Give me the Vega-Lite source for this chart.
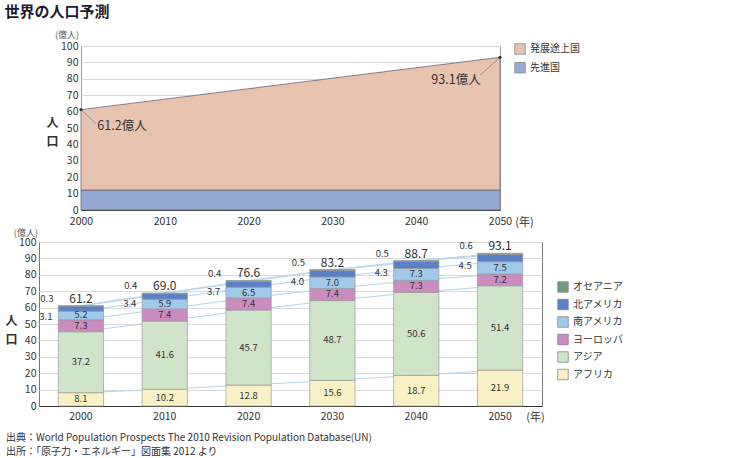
{
  "$schema": "https://vega.github.io/schema/vega-lite/v6.json",
  "background": "white",
  "padding": {"left": 4, "top": 4, "right": 5, "bottom": 0},
  "config": {
    "font": "Noto Sans CJK JP",
    "axis": {"labelFont": "Noto Sans CJK JP", "labelFontSize": 10.5, "labelColor": "#333", "labelOverlap": false, "titleFont": "Noto Sans CJK JP", "titleColor": "#333", "ticks": false, "gridColor": "#dadada", "domainColor": "#444"},
    "legend": {"labelFont": "Noto Sans CJK JP", "labelFontSize": 10, "labelColor": "#333", "symbolType": "square", "symbolSize": 110, "symbolStrokeColor": "#888", "symbolStrokeWidth": 0.8},
    "text": {"font": "Noto Sans CJK JP"}
  },
  "title": {"text": "世界の人口予測", "anchor": "start", "frame": "bounds", "fontSize": 15, "fontWeight": "bold", "color": "#1a1a33", "offset": 11, "font": "Noto Sans CJK JP"},
  "columns": 1,
  "spacing": 0,
  "resolve": {"scale": {"color": "independent", "x": "independent", "y": "independent"}},
  "concat": [
    {
      "spacing": 0,
      "hconcat": [
        {
          "width": 6,
          "height": 10,
          "view": {"fill": "white", "stroke": null},
          "data": {"values": [{"s": 0}]},
          "mark": {"type": "point", "opacity": 0, "size": 0}
        },
        {
          "width": 419,
          "height": 164,
          "view": {"stroke": "#a0a0a0"},
          "layer": [
            {
              "data": {"values": [
                {"year": 2000, "region": "先進国", "pop": 12.2},
                {"year": 2050, "region": "先進国", "pop": 12.2},
                {"year": 2000, "region": "発展途上国", "pop": 49.0},
                {"year": 2050, "region": "発展途上国", "pop": 80.9}
              ]},
              "mark": {"type": "area", "stroke": "#6d6478", "strokeWidth": 0.8, "opacity": 1},
              "encoding": {
                "x": {"field": "year", "type": "quantitative", "scale": {"domain": [2000, 2050], "nice": false, "zero": false},
                  "axis": {"values": [2000, 2010, 2020, 2030, 2040, 2050], "tickCount": 6, "format": "d", "grid": false, "domain": true, "domainColor": "#333", "labelPadding": 6, "labelFlush": false, "labelOverlap": false, "title": "(年)", "titleX": 443, "titleY": 12, "titleAlign": "center", "titleBaseline": "middle", "titleFontWeight": "normal", "titleFontSize": 11}},
                "y": {"field": "pop", "type": "quantitative", "stack": "zero", "scale": {"domain": [0, 100], "nice": false},
                  "axis": {"values": [0, 10, 20, 30, 40, 50, 60, 70, 80, 90, 100], "tickCount": 11, "grid": true, "domain": false, "labelPadding": 3, "labelOverlap": false, "title": ["人", "口"], "titleAngle": 0, "titleX": -29, "titleY": 76, "titleAlign": "center", "titleBaseline": "middle", "titleLineHeight": 19, "titleFontSize": 12, "titleFontWeight": "bold"}},
                "color": {"field": "region", "type": "nominal", "scale": {"domain": ["発展途上国", "先進国"], "range": ["#E8C4B0", "#95AAD3"]},
                  "legend": {"orient": "none", "legendX": 475, "legendY": -3, "title": null, "rowPadding": 4.7}},
                "order": {"field": "region", "sort": "ascending"}
              }
            },
            {
              "data": {"values": [
                {"year": 2000, "pop": 61.2, "label": "61.2億人"},
                {"year": 2050, "pop": 93.1, "label": "93.1億人"}
              ]},
              "layer": [
                {
                  "transform": [{"filter": "datum.year == 2000"}],
                  "mark": {"type": "rule", "color": "#8a7a80", "strokeWidth": 0.8, "x2Offset": 15, "y2Offset": 14},
                  "encoding": {"x": {"field": "year", "type": "quantitative"}, "y": {"field": "pop", "type": "quantitative"}, "x2": {"field": "year"}, "y2": {"field": "pop"}}
                },
                {
                  "transform": [{"filter": "datum.year == 2050"}],
                  "mark": {"type": "rule", "color": "#8a7a80", "strokeWidth": 0.8, "x2Offset": -20, "y2Offset": 18},
                  "encoding": {"x": {"field": "year", "type": "quantitative"}, "y": {"field": "pop", "type": "quantitative"}, "x2": {"field": "year"}, "y2": {"field": "pop"}}
                },
                {
                  "mark": {"type": "point", "filled": true, "size": 10, "color": "#333", "opacity": 1},
                  "encoding": {"x": {"field": "year", "type": "quantitative"}, "y": {"field": "pop", "type": "quantitative"}}
                },
                {
                  "transform": [{"filter": "datum.year == 2000"}],
                  "mark": {"type": "text", "dx": 41, "dy": 16, "fontSize": 12.5, "color": "#333"},
                  "encoding": {"x": {"field": "year", "type": "quantitative"}, "y": {"field": "pop", "type": "quantitative"}, "text": {"field": "label"}}
                },
                {
                  "transform": [{"filter": "datum.year == 2050"}],
                  "mark": {"type": "text", "dx": -44, "dy": 23, "fontSize": 12.5, "color": "#333"},
                  "encoding": {"x": {"field": "year", "type": "quantitative"}, "y": {"field": "pop", "type": "quantitative"}, "text": {"field": "label"}}
                }
              ]
            },
            {
              "data": {"values": [{"unit": "(億人)"}]},
              "mark": {"type": "text", "fontSize": 9, "color": "#555", "dx": -14, "dy": -11},
              "encoding": {"x": {"datum": 2000, "type": "quantitative"}, "y": {"datum": 100, "type": "quantitative"}, "text": {"field": "unit"}}
            }
          ]
        }
      ]
    },
    {
      "width": 503,
      "height": 164,
      "view": {"stroke": "#777"},
      "title": {
        "text": ["出典：World Population Prospects The 2010 Revision Population Database(UN)", "出所：「原子力・エネルギー」図面集 2012 より"],
        "orient": "bottom", "anchor": "start", "frame": "group", "dx": -33, "fontSize": 10, "fontWeight": "normal", "color": "#333", "lineHeight": 14, "offset": 11, "font": "Noto Sans CJK JP"
      },
      "layer": [
        {
          "data": {"name": "pop"},
          "transform": [
            {"calculate": "indexof(['アフリカ','アジア','ヨーロッパ','南アメリカ','北アメリカ','オセアニア'], datum.region)", "as": "k"},
            {"stack": "pop", "groupby": ["year"], "sort": [{"field": "k", "order": "ascending"}], "as": ["y0", "y1"]},
            {"calculate": "(datum.y0 + datum.y1) / 2", "as": "ym"}
          ],
          "layer": [
            {
              "mark": {"type": "line", "color": "#b3d5ee", "strokeWidth": 1},
              "encoding": {
                "x": {"field": "year", "type": "ordinal", "scale": {"paddingInner": 0.46, "paddingOuter": 0.23},
                  "axis": {"labelAngle": 0, "labelPadding": 5, "domainColor": "#333", "title": "(年)", "titleX": 496, "titleY": 11, "titleAlign": "center", "titleBaseline": "middle", "titleFontWeight": "normal", "titleFontSize": 11}},
                "y": {"field": "y1", "type": "quantitative", "scale": {"domain": [0, 100], "nice": false},
                  "axis": {"values": [0, 10, 20, 30, 40, 50, 60, 70, 80, 90, 100], "tickCount": 11, "grid": true, "domain": false, "labelPadding": 3, "labelOverlap": false, "title": ["人", "口"], "titleAngle": 0, "titleX": -28, "titleY": 78, "titleAlign": "center", "titleBaseline": "middle", "titleLineHeight": 19, "titleFontSize": 12, "titleFontWeight": "bold"}},
                "detail": {"field": "region"}
              }
            },
            {
              "mark": {"type": "bar", "stroke": "#999", "strokeWidth": 0.7},
              "encoding": {
                "x": {"field": "year", "type": "ordinal"},
                "y": {"field": "y0", "type": "quantitative"},
                "y2": {"field": "y1"},
                "color": {"field": "region", "type": "nominal",
                  "scale": {"domain": ["オセアニア", "北アメリカ", "南アメリカ", "ヨーロッパ", "アジア", "アフリカ"], "range": ["#6F9C7D", "#5A80C5", "#A1CAEA", "#CB8CC0", "#CFE4C9", "#FAF2C6"]},
                  "legend": {"orient": "none", "legendX": 518, "legendY": 39, "title": null, "rowPadding": 3.5}}
              }
            },
            {
              "transform": [{"filter": "datum.k <= 3"}],
              "mark": {"type": "text", "fontSize": 9.5, "color": "#333"},
              "encoding": {"x": {"field": "year", "type": "ordinal"}, "y": {"field": "ym", "type": "quantitative"}, "text": {"field": "pop", "format": ".1f"}}
            },
            {
              "transform": [{"filter": "datum.k == 4"}],
              "mark": {"type": "text", "fontSize": 9.5, "color": "#333", "dx": -35, "dy": 8},
              "encoding": {"x": {"field": "year", "type": "ordinal"}, "y": {"field": "ym", "type": "quantitative"}, "text": {"field": "pop", "format": ".1f"}}
            },
            {
              "transform": [{"filter": "datum.k == 5"}],
              "mark": {"type": "text", "fontSize": 9.5, "color": "#333", "dx": -34, "dy": -7},
              "encoding": {"x": {"field": "year", "type": "ordinal"}, "y": {"field": "y1", "type": "quantitative"}, "text": {"field": "pop", "format": ".1f"}}
            }
          ]
        },
        {
          "data": {"values": [
            {"year": 2000, "total": 61.2},
            {"year": 2010, "total": 69.0},
            {"year": 2020, "total": 76.6},
            {"year": 2030, "total": 83.2},
            {"year": 2040, "total": 88.7},
            {"year": 2050, "total": 93.1}
          ]},
          "mark": {"type": "text", "fontSize": 12, "color": "#333", "dy": -7},
          "encoding": {"x": {"field": "year", "type": "ordinal"}, "y": {"field": "total", "type": "quantitative"}, "text": {"field": "total", "format": ".1f"}}
        },
        {
          "data": {"values": [{"unit": "(億人)"}]},
          "mark": {"type": "text", "fontSize": 9, "color": "#555", "dx": -55, "dy": -9},
          "encoding": {"x": {"datum": 2000, "type": "ordinal"}, "y": {"datum": 100, "type": "quantitative"}, "text": {"field": "unit"}}
        }
      ]
    }
  ],
  "datasets": {
    "pop": [
      {"year": 2000, "region": "アフリカ", "pop": 8.1},
      {"year": 2000, "region": "アジア", "pop": 37.2},
      {"year": 2000, "region": "ヨーロッパ", "pop": 7.3},
      {"year": 2000, "region": "南アメリカ", "pop": 5.2},
      {"year": 2000, "region": "北アメリカ", "pop": 3.1},
      {"year": 2000, "region": "オセアニア", "pop": 0.3},
      {"year": 2010, "region": "アフリカ", "pop": 10.2},
      {"year": 2010, "region": "アジア", "pop": 41.6},
      {"year": 2010, "region": "ヨーロッパ", "pop": 7.4},
      {"year": 2010, "region": "南アメリカ", "pop": 5.9},
      {"year": 2010, "region": "北アメリカ", "pop": 3.4},
      {"year": 2010, "region": "オセアニア", "pop": 0.4},
      {"year": 2020, "region": "アフリカ", "pop": 12.8},
      {"year": 2020, "region": "アジア", "pop": 45.7},
      {"year": 2020, "region": "ヨーロッパ", "pop": 7.4},
      {"year": 2020, "region": "南アメリカ", "pop": 6.5},
      {"year": 2020, "region": "北アメリカ", "pop": 3.7},
      {"year": 2020, "region": "オセアニア", "pop": 0.4},
      {"year": 2030, "region": "アフリカ", "pop": 15.6},
      {"year": 2030, "region": "アジア", "pop": 48.7},
      {"year": 2030, "region": "ヨーロッパ", "pop": 7.4},
      {"year": 2030, "region": "南アメリカ", "pop": 7.0},
      {"year": 2030, "region": "北アメリカ", "pop": 4.0},
      {"year": 2030, "region": "オセアニア", "pop": 0.5},
      {"year": 2040, "region": "アフリカ", "pop": 18.7},
      {"year": 2040, "region": "アジア", "pop": 50.6},
      {"year": 2040, "region": "ヨーロッパ", "pop": 7.3},
      {"year": 2040, "region": "南アメリカ", "pop": 7.3},
      {"year": 2040, "region": "北アメリカ", "pop": 4.3},
      {"year": 2040, "region": "オセアニア", "pop": 0.5},
      {"year": 2050, "region": "アフリカ", "pop": 21.9},
      {"year": 2050, "region": "アジア", "pop": 51.4},
      {"year": 2050, "region": "ヨーロッパ", "pop": 7.2},
      {"year": 2050, "region": "南アメリカ", "pop": 7.5},
      {"year": 2050, "region": "北アメリカ", "pop": 4.5},
      {"year": 2050, "region": "オセアニア", "pop": 0.6}
    ]
  }
}
